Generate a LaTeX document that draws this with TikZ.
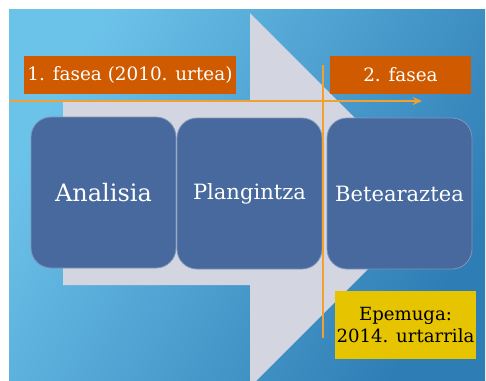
\documentclass[tikz,border=0pt]{standalone}
\usepackage{fontspec}
\setmainfont{DejaVu Serif}
\usetikzlibrary{arrows.meta}
\definecolor{bgA}{HTML}{6CC3EA}
\definecolor{bgB}{HTML}{2F7DB5}
\definecolor{arrowgray}{HTML}{D3D6E0}
\definecolor{stepblue}{HTML}{47699D}
\definecolor{phaseor}{HTML}{D05A00}
\definecolor{lineor}{HTML}{F2A030}
\definecolor{goldbox}{HTML}{E6C400}
\tikzset{
  stepbox/.style={draw=stepblue!70!white, line width=0.6pt, fill=stepblue, rounded corners=15pt, minimum width=108.75pt, minimum height=113.25pt, text=white, inner sep=0pt},
  phasebox/.style={fill=phaseor, text=white, minimum height=28.5pt, inner sep=0pt, font=\fontsize{13.8}{16}\selectfont},
  orline/.style={draw=lineor, line width=2pt}
}
\begin{document}
\begin{tikzpicture}[x=0.75pt,y=-0.75pt]
\useasboundingbox (0,0) rectangle (486,380);
\fill[white] (0,0) rectangle (486,380);
\begin{scope}
\clip (9,9) rectangle (485,380);
\shade[shading=axis, left color=bgA, right color=bgB, shading angle=60] (9,9) rectangle (485,380);
\fill[arrowgray] (63,102) -- (250,102) -- (250,13) -- (437,200) -- (250,387) -- (250,285) -- (63,285) -- cycle;
\end{scope}
% boxes
\node[stepbox, font=\fontsize{18}{22}\selectfont] (ana) at (103.5,192.5) {Analisia};
\node[stepbox, font=\fontsize{15.8}{19}\selectfont] (plan) at (249.5,193.5) {Plangintza};
\node[stepbox, font=\fontsize{15.8}{19}\selectfont] (bete) at (399.5,193.5) {Betearaztea};
% phase labels
\node[phasebox, minimum width=159pt] (f1) at (130,75) {1. fasea (2010. urtea)};
\node[phasebox, minimum width=105.75pt] (f2) at (400.5,75) {2. fasea};
% orange lines
\coordinate (hl) at (9,101);
\coordinate (hr) at (422,101);
\coordinate (vt) at (323,65);
\coordinate (vb) at (323,338);
\draw[orline, -{Stealth[length=7pt,width=6pt]}] (hl) -- (hr);
\draw[orline] (vt) -- (vb);
% deadline
\node[fill=goldbox, text=black, minimum width=105.75pt, minimum height=51pt, inner sep=0pt, align=center, font=\fontsize{13.6}{17}\selectfont] (dl) at (405.5,325) {Epemuga:\\2014. urtarrila};
\end{tikzpicture}
\end{document}
